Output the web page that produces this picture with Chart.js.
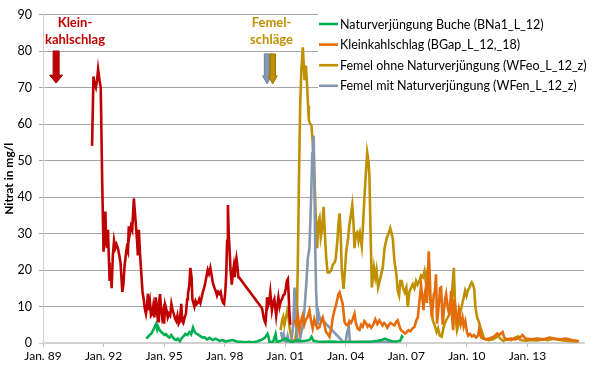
<!DOCTYPE html>
<html>
<head>
<meta charset="utf-8">
<script src="https://cdn.jsdelivr.net/npm/chart.js@4.4.1/dist/chart.umd.min.js"></script>
<style>
	html, body { margin: 0; padding: 0; background: #fff; }
	#wrap { width: 600px; height: 371px; }
</style>
</head>
<body>
<div id="wrap"><canvas id="nitrat-chart" width="600" height="371"></canvas></div>
<script>
// x = decimal year, y = nitrate mg/l
var tickYears = [1989, 1992, 1995, 1998, 2001, 2004, 2007, 2010, 2013];
var yTicks = [0, 10, 20, 30, 40, 50, 60, 70, 80, 90];

var gapEarlyYears = [1991.43, 1991.50, 1991.56, 1991.62, 1991.68, 1991.73, 1991.80, 1991.86, 1991.93, 1992.00, 1992.06, 1992.09, 1992.13, 1992.17, 1992.22, 1992.27, 1992.30, 1992.36, 1992.40, 1992.46, 1992.52, 1992.58, 1992.64, 1992.71, 1992.78, 1992.84, 1992.93, 1992.98, 1993.04, 1993.10, 1993.15, 1993.21, 1993.25, 1993.30, 1993.36, 1993.42, 1993.50, 1993.55, 1993.62, 1993.66, 1993.70, 1993.75, 1993.80, 1993.87, 1993.93, 1994.00, 1994.04, 1994.10, 1994.15, 1994.20, 1994.25, 1994.30, 1994.35, 1994.41, 1994.46, 1994.52, 1994.58, 1994.64, 1994.70, 1994.74, 1994.80, 1994.85, 1994.90, 1994.95, 1995.00, 1995.05, 1995.12, 1995.18, 1995.24, 1995.30, 1995.36, 1995.42, 1995.48, 1995.55, 1995.60, 1995.66, 1995.72, 1995.78, 1995.85, 1995.90, 1995.95, 1996.02, 1996.08, 1996.14, 1996.18, 1996.25, 1996.30, 1996.36, 1996.40, 1996.45, 1996.50, 1996.56, 1996.62, 1996.68, 1996.74, 1996.80, 1996.86, 1996.92, 1996.98, 1997.04, 1997.09, 1997.16, 1997.22, 1997.29, 1997.34, 1997.40, 1997.44, 1997.50, 1997.56, 1997.62, 1997.68, 1997.74, 1997.80, 1997.86, 1997.92, 1997.97, 1998.03, 1998.08, 1998.12, 1998.16, 1998.20, 1998.24, 1998.29, 1998.35, 1998.40, 1998.45, 1998.50, 1998.54, 1998.58, 1998.63, 1998.68, 1998.72, 1999.85, 1999.95, 2000.02, 2000.06, 2000.10, 2000.14, 2000.20, 2000.26, 2000.34, 2000.40, 2000.46, 2000.50, 2000.55, 2000.60, 2000.66, 2000.72, 2000.78, 2000.84, 2000.90, 2000.97, 2001.03, 2001.08, 2001.13, 2001.17, 2001.21, 2001.25];
var gapEarlyNitrate = [54, 73, 71, 70, 72, 75, 72, 70, 45, 25, 30, 36, 28, 26, 31, 22, 17, 20, 15, 24, 28, 26, 27, 26, 24, 22, 14, 16, 21, 24, 26, 25, 32, 30, 32, 31, 39.6, 36, 31, 28, 24, 31, 25, 19, 14, 11.5, 9.5, 8, 10, 13.5, 9, 11, 7.5, 8, 10, 7, 12.5, 9, 6, 11, 13.4, 9, 7, 8.5, 5.3, 10.5, 9, 7, 8, 7.5, 10.7, 9, 8, 6.5, 6, 7.5, 5.3, 6, 10.7, 6, 5.5, 7, 8, 12, 13.4, 16, 20.6, 18, 12, 11, 10, 11.5, 10.7, 11, 12, 11, 12.5, 14, 15, 16.5, 18, 20, 19, 20.6, 19, 17, 16, 15, 14.2, 13, 14, 13.5, 14, 12, 11, 10.7, 14, 19, 28, 37.8, 30, 26, 20, 16, 19, 21, 18, 22, 23.3, 21, 18, 17.9, 9.5, 6.5, 5.5, 8, 12.5, 10, 11, 13.9, 9, 11, 12, 10, 7.5, 10, 12.5, 10, 11.5, 12, 13, 13.4, 15, 17, 17.5, 13, 8, 5];

var beechYears = [1994.12, 1994.25, 1994.37, 1994.50, 1994.61, 1994.66, 1994.70, 1994.78, 1994.86, 1994.94, 1995.02, 1995.10, 1995.18, 1995.27, 1995.35, 1995.43, 1995.52, 1995.60, 1995.68, 1995.78, 1995.88, 1995.96, 1996.05, 1996.15, 1996.26, 1996.34, 1996.43, 1996.50, 1996.58, 1996.66, 1996.76, 1996.90, 1997.00, 1997.12, 1997.25, 1997.40, 1997.55, 1997.75, 1997.90, 1998.05, 1998.20, 1998.40, 1998.60, 1998.80, 1999.00, 1999.20, 1999.40, 1999.60, 1999.80, 2000.00, 2000.12, 2000.18, 2000.22, 2000.40, 2000.52, 2000.58, 2000.80, 2001.00, 2001.20, 2001.40, 2001.60, 2001.80, 2002.00, 2002.20, 2002.30, 2002.40, 2002.60, 2002.90, 2003.20, 2003.50, 2003.80, 2004.10, 2004.40, 2004.70, 2005.00, 2005.30, 2005.60, 2005.80, 2005.95, 2006.10, 2006.30, 2006.50, 2006.70, 2006.78, 2006.84];
var beechNitrate = [1.2, 2, 2.6, 4, 5.3, 3.8, 4.5, 3.5, 3, 2.6, 2.2, 2.4, 1.8, 1.5, 2.2, 1.6, 1, 0.8, 1.2, 0.5, 1.4, 1.8, 2.5, 2.2, 3, 2.4, 4.2, 3.2, 2.6, 2.4, 2, 1.5, 1.6, 1, 1.4, 0.8, 1.2, 0.6, 0.8, 0.4, 0.6, 0.8, 0.4, 0.3, 0.2, 0.3, 0.2, 0.4, 0.8, 1.5, 2.5, 1.5, 0.2, 0.3, 2.4, 0.3, 0.6, 1.2, 0.5, 0.3, 0.8, 0.5, 0.6, 0.8, 1.7, 0.6, 0.4, 0.3, 0.4, 0.3, 0.2, 0.3, 0.2, 0.3, 0.3, 0.4, 0.6, 0.9, 1.2, 0.8, 0.5, 0.4, 0.6, 1.8, 1.4];

var gapYears = [2001.45, 2001.55, 2001.62, 2001.70, 2001.78, 2001.86, 2001.94, 2002.02, 2002.10, 2002.20, 2002.28, 2002.36, 2002.44, 2002.52, 2002.60, 2002.70, 2002.78, 2002.86, 2002.94, 2003.02, 2003.10, 2003.19, 2003.28, 2003.36, 2003.44, 2003.50, 2003.58, 2003.64, 2003.69, 2003.76, 2003.85, 2003.94, 2004.02, 2004.10, 2004.18, 2004.26, 2004.34, 2004.43, 2004.50, 2004.58, 2004.68, 2004.76, 2004.84, 2004.92, 2005.00, 2005.08, 2005.16, 2005.26, 2005.36, 2005.46, 2005.56, 2005.66, 2005.74, 2005.82, 2005.90, 2005.98, 2006.06, 2006.14, 2006.22, 2006.30, 2006.41, 2006.50, 2006.57, 2006.66, 2006.74, 2006.84, 2006.94, 2007.02, 2007.10, 2007.20, 2007.30, 2007.40, 2007.48, 2007.57, 2007.65, 2007.73, 2007.80, 2007.85, 2007.90, 2007.96, 2008.02, 2008.07, 2008.11, 2008.15, 2008.20, 2008.26, 2008.31, 2008.36, 2008.41, 2008.47, 2008.52, 2008.58, 2008.63, 2008.67, 2008.72, 2008.80, 2008.86, 2008.92, 2008.97, 2009.04, 2009.10, 2009.16, 2009.22, 2009.28, 2009.32, 2009.38, 2009.45, 2009.52, 2009.60, 2009.70, 2009.78, 2009.84, 2009.92, 2010.00, 2010.06, 2010.15, 2010.25, 2010.35, 2010.45, 2010.55, 2010.62, 2010.70, 2010.80, 2010.95, 2011.15, 2011.35, 2011.50, 2011.60, 2011.77, 2011.85, 2011.95, 2012.15, 2012.40, 2012.65, 2012.75, 2012.90, 2013.20, 2013.50, 2013.80, 2014.10, 2014.30, 2014.60, 2014.90, 2015.20, 2015.55];
var gapNitrate = [6.2, 5, 7.8, 3.5, 6, 7.5, 5, 6.5, 7, 8.9, 6, 4, 6.5, 5, 4, 4.4, 6, 7, 5, 3, 2.5, 1.7, 4, 7.1, 9, 10, 12, 13.5, 13.9, 12.5, 10.6, 5.7, 5, 4.8, 6, 5.5, 6.5, 8, 5.5, 4, 3.6, 5, 4.5, 6, 5.5, 4.5, 5, 4.2, 5, 6.5, 5.2, 6.2, 5.5, 4.8, 5.5, 5, 4.2, 5, 5.5, 5.2, 4.8, 5.8, 6.2, 4.5, 3.5, 3, 2.6, 3, 3.5, 3.2, 4, 4.4, 6, 7.1, 11.6, 15.7, 12, 9, 13, 15, 11, 18, 25.1, 20, 12, 7.1, 10, 13.4, 14, 18.8, 5.3, 9, 12, 15, 15.2, 5, 9, 12, 13.4, 10, 8.5, 10, 14.3, 6, 3.5, 12, 8, 6, 9, 5.3, 7, 4.5, 6, 3, 2, 2.5, 1.8, 2.2, 1.5, 2, 4.2, 1.6, 1.2, 1, 1.3, 1.8, 2.6, 2.2, 3, 1.5, 1, 1.2, 1, 1.5, 2.2, 1.2, 1, 1.2, 1, 1.5, 1.2, 1, 1.2, 0.8, 0.5];

var femelOhneYears = [2000.77, 2000.84, 2000.90, 2000.96, 2001.02, 2001.10, 2001.16, 2001.22, 2001.30, 2001.38, 2001.50, 2001.56, 2001.62, 2001.68, 2001.74, 2001.80, 2001.87, 2001.92, 2001.96, 2002.02, 2002.08, 2002.13, 2002.17, 2002.24, 2002.30, 2002.36, 2002.42, 2002.48, 2002.54, 2002.58, 2002.64, 2002.70, 2002.76, 2002.82, 2002.90, 2002.96, 2003.03, 2003.10, 2003.19, 2003.28, 2003.36, 2003.44, 2003.50, 2003.58, 2003.64, 2003.69, 2003.74, 2003.80, 2003.89, 2003.96, 2004.02, 2004.10, 2004.18, 2004.25, 2004.32, 2004.38, 2004.43, 2004.50, 2004.57, 2004.63, 2004.70, 2004.79, 2004.86, 2004.93, 2005.00, 2005.06, 2005.12, 2005.17, 2005.22, 2005.29, 2005.34, 2005.39, 2005.46, 2005.52, 2005.60, 2005.68, 2005.76, 2005.83, 2005.92, 2006.03, 2006.12, 2006.20, 2006.27, 2006.33, 2006.41, 2006.50, 2006.57, 2006.64, 2006.70, 2006.77, 2006.84, 2006.92, 2007.00, 2007.07, 2007.15, 2007.24, 2007.32, 2007.40, 2007.48, 2007.56, 2007.65, 2007.73, 2007.82, 2007.90, 2007.96, 2008.06, 2008.12, 2008.18, 2008.23, 2008.31, 2008.40, 2008.50, 2008.57, 2008.66, 2008.75, 2008.85, 2008.95, 2009.05, 2009.15, 2009.22, 2009.28, 2009.35, 2009.40, 2009.46, 2009.51, 2009.58, 2009.66, 2009.74, 2009.82, 2009.91, 2009.98, 2010.05, 2010.12, 2010.18, 2010.24, 2010.30, 2010.36, 2010.42, 2010.50, 2010.58, 2010.66, 2010.75, 2010.83, 2010.92, 2011.10, 2011.30, 2011.45, 2011.55, 2011.65, 2011.80, 2012.00, 2012.20, 2012.40, 2012.55, 2012.65, 2012.90, 2013.20, 2013.50, 2013.80, 2014.00, 2014.30, 2014.60, 2014.90, 2015.20, 2015.50];
var femelOhneNitrate = [3.5, 6, 7.1, 5, 6.5, 8.9, 7.5, 4, 1.7, 0.3, 1, 4, 20, 45, 65, 75, 81, 76, 72, 76, 71, 65, 61, 60, 59.5, 55, 50.4, 40, 30, 26, 33, 34.2, 29, 31, 37.3, 30, 23.3, 19.3, 19.3, 20, 21.5, 22, 23, 28, 33, 35.5, 31, 20, 14.8, 20, 25.1, 28, 32.4, 35, 37.8, 33, 26, 30, 30.4, 28, 30, 26.5, 33, 40.5, 47, 52.2, 50, 45.9, 32, 15.2, 18, 20.7, 18, 20, 15.2, 17, 19, 20.6, 26, 28.8, 30, 31.5, 30, 28.5, 22.4, 19, 14.3, 13, 17, 17, 15, 13.9, 15.2, 9.8, 14, 15.2, 16.1, 15, 17, 16, 17, 18.5, 18, 19.7, 17, 20.2, 16, 12, 9.8, 6.2, 4.9, 3, 4, 2, 1.7, 4.4, 6, 7, 8, 8.5, 15, 20.6, 12.5, 6, 3.5, 5, 8, 10, 12, 14.3, 13, 14.5, 15, 16, 16.6, 16, 14.8, 10, 7.1, 6, 4.4, 3, 1.5, 1, 0.8, 1, 1.5, 2, 1.2, 0.6, 1, 0.8, 1.5, 1.8, 0.8, 0.6, 0.8, 0.7, 1, 0.8, 1.2, 0.8, 0.6, 0.5, 0.4];

var femelMitYears = [2000.78, 2000.85, 2000.92, 2000.98, 2001.05, 2001.12, 2001.18, 2001.30, 2001.40, 2001.46, 2001.53, 2001.60, 2001.70, 2001.80, 2001.88, 2001.95, 2002.04, 2002.12, 2002.20, 2002.29, 2002.34, 2002.37, 2002.41, 2002.45, 2002.49, 2002.53, 2002.60, 2002.66, 2002.72, 2002.80, 2002.86, 2003.92, 2004.00, 2004.05, 2004.10, 2004.15, 2004.20, 2004.50, 2004.90, 2005.30, 2005.70, 2006.10, 2006.50];
var femelMitNitrate = [3, 1.5, 2.5, 0.5, 0.3, 2, 0.5, 0.2, 5, 15.2, 6, 0.3, 0.2, 3, 5, 8.9, 16, 23.3, 26, 41, 52, 54, 56.8, 40.6, 25, 14.3, 5, 8, 6.5, 6.7, 6.2, 0, 0.5, 2.5, 3.5, 4.4, 0.4, 0.3, 0.2, 0.3, 0.2, 0.4, 0.3];

var seriesLabels = ['Naturverjüngung Buche (BNa1_L_12)', 'Kleinkahlschlag (BGap_L_12,_18)', 'Femel ohne Naturverjüngung (WFeo_L_12_z)', 'Femel mit Naturverjüngung (WFen_L_12_z)'];

var RED = '#C00000', GREEN = '#00B050', ORANGE = '#E46C0A', GOLD = '#BF9000', GRAY = '#8497B0';
var FONT = 'Lato, "Liberation Sans", sans-serif';

function points(years, values) {
	var out = [];
	for (var i = 0; i < years.length; i++) {
		out.push({x: years[i], y: values[i]});
	}
	return out;
}

function lineSet(label, years, values, color, inLegend) {
	return {
		label: label,
		data: points(years, values),
		borderColor: color,
		backgroundColor: color,
		borderWidth: 2.6,
		pointRadius: 0,
		tension: 0,
		fill: false,
		inLegend: inLegend
	};
}

function drawArrow(ctx, x, yTop, yTip, shaftW, headW, headH, fill, stroke) {
	ctx.save();
	ctx.beginPath();
	ctx.moveTo(x - shaftW / 2, yTop);
	ctx.lineTo(x + shaftW / 2, yTop);
	ctx.lineTo(x + shaftW / 2, yTip - headH);
	ctx.lineTo(x + headW / 2, yTip - headH);
	ctx.lineTo(x, yTip);
	ctx.lineTo(x - headW / 2, yTip - headH);
	ctx.lineTo(x - shaftW / 2, yTip - headH);
	ctx.closePath();
	ctx.fillStyle = fill;
	ctx.fill();
	ctx.lineWidth = 1;
	ctx.strokeStyle = stroke;
	ctx.stroke();
	ctx.restore();
}

// legend box top right + arrows/labels for the cuttings
var extrasPlugin = {
	id: 'extras',
	afterDatasetsDraw: function (chart) {
		var ctx = chart.ctx;
		var xs = chart.scales.x, ys = chart.scales.y;

		// legend
		ctx.save();
		ctx.fillStyle = '#fff';
		ctx.fillRect(318, 13, 266, 84);
		ctx.font = '12.5px ' + FONT;
		ctx.textBaseline = 'middle';
		ctx.textAlign = 'left';
		var row = 0;
		chart.data.datasets.forEach(function (ds) {
			if (!ds.inLegend) return;
			var y = 24 + row * 20.6;
			ctx.strokeStyle = ds.borderColor;
			ctx.lineWidth = 2.6;
			ctx.beginPath();
			ctx.moveTo(319, y);
			ctx.lineTo(338, y);
			ctx.stroke();
			ctx.fillStyle = '#000';
			ctx.fillText(ds.label, 340, y + 0.5);
			row++;
		});
		ctx.restore();

		// annotations
		ctx.save();
		ctx.font = 'bold 13px ' + FONT;
		ctx.textAlign = 'center';
		ctx.textBaseline = 'middle';
		ctx.fillStyle = RED;
		ctx.fillText('Klein-', 75, 22.5);
		ctx.fillText('kahlschlag', 75, 39.5);
		ctx.fillStyle = GOLD;
		ctx.fillText('Femel-', 271.5, 22.5);
		ctx.fillText('schläge', 271.5, 39.5);
		ctx.restore();

		drawArrow(ctx, xs.getPixelForValue(1989.65), ys.getPixelForValue(80), ys.getPixelForValue(71.2), 6, 13, 8, RED, '#A00000');
		drawArrow(ctx, xs.getPixelForValue(2000.1), ys.getPixelForValue(79.2), ys.getPixelForValue(71), 5.5, 9, 8, GRAY, '#6F83A0');
		drawArrow(ctx, xs.getPixelForValue(2000.38), ys.getPixelForValue(79.2), ys.getPixelForValue(71), 5.5, 9, 8, GOLD, '#9A7400');
	}
};

function chartGenerator() {
	var ctx = document.getElementById('nitrat-chart');
	var datasets = [
		lineSet('Kleinkahlschlag früh', gapEarlyYears, gapEarlyNitrate, RED, false),
		lineSet(seriesLabels[0], beechYears, beechNitrate, GREEN, true),
		lineSet(seriesLabels[1], gapYears, gapNitrate, ORANGE, true),
		lineSet(seriesLabels[2], femelOhneYears, femelOhneNitrate, GOLD, true),
		lineSet(seriesLabels[3], femelMitYears, femelMitNitrate, GRAY, true)
	];
	// draw order: gold under gray like the original
	datasets[3].order = 2;
	datasets[4].order = 1;

	return new Chart(ctx, {
		type: 'line',
		data: {datasets: datasets},
		options: {
			responsive: false,
			animation: false,
			devicePixelRatio: 1,
			layout: {padding: {left: 0, right: 16, top: 11, bottom: 0}},
			plugins: {legend: {display: false}, tooltip: {enabled: false}},
			scales: {
				x: {
					type: 'linear',
					min: 1989,
					max: 2015.8,
					afterBuildTicks: function (scale) {
						scale.ticks = tickYears.map(function (v) { return {value: v}; });
					},
					afterFit: function (scale) { scale.height = 28; },
					grid: {display: true, drawOnChartArea: false, drawTicks: true, tickLength: 4, color: '#BFBFBF'},
					border: {display: true, color: '#D0D0D0', width: 1.5},
					ticks: {
						padding: 2,
						maxRotation: 0,
						color: '#000',
						font: {family: FONT, size: 12},
						callback: function (v) { return 'Jan. ' + String(v).slice(2); }
					}
				},
				y: {
					min: 0,
					max: 90,
					afterBuildTicks: function (scale) {
						scale.ticks = yTicks.map(function (v) { return {value: v}; });
					},
					afterFit: function (scale) { scale.width = 43; },
					grid: {
						color: function (c) { return c.tick && c.tick.value === 0 ? '#D0D0D0' : '#A6A6A6'; },
						tickLength: 4
					},
					border: {display: true, color: '#D0D0D0', width: 1},
					ticks: {padding: 7, color: '#000', font: {family: FONT, size: 12.5}},
					title: {
						display: true,
						text: 'Nitrat in mg/l',
						color: '#000',
						font: {family: FONT, size: 12, weight: 'bold'},
						padding: {top: 2, bottom: 0}
					}
				}
			}
		},
		plugins: [extrasPlugin]
	});
}

chartGenerator();
</script>
</body>
</html>
